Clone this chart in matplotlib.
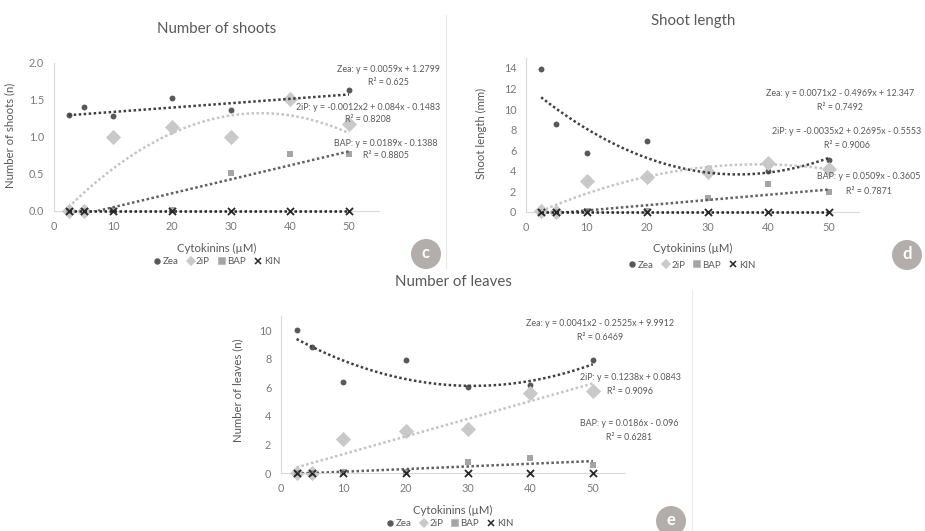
import matplotlib
matplotlib.use('Agg')
from matplotlib import pyplot as plt
from matplotlib.lines import Line2D
from matplotlib.patches import Ellipse
import numpy as np

plt.rcParams['font.family'] = ['Lato', 'DejaVu Sans']

# cytokinin concentrations (uM)
conc = [2.5, 5, 10, 20, 30, 40, 50]

# number of shoots
shoots_zea = [1.30, 1.41, 1.28, 1.53, 1.36, 1.56, 1.63]
shoots_2ip = [0, 0, 1.0, 1.13, 1.0, 1.51, 1.17]
shoots_bap = [0, 0, 0.01, 0.01, 0.52, 0.77, 0.77]
shoots_kin = [0, 0, 0, 0, 0, 0, 0]

# shoot length (mm)
length_zea = [13.95, 8.6, 5.7, 6.9, 4.3, 4.0, 5.1]
length_2ip = [0.05, 0, 3.05, 3.4, 3.9, 4.8, 4.2]
length_bap = [0, 0, 0.1, 0.05, 1.4, 2.7, 1.9]
length_kin = [0, 0, 0, 0, 0, 0, 0]

# number of leaves
leaves_zea = [10.0, 8.85, 6.35, 7.95, 6.0, 6.15, 7.9]
leaves_2ip = [0, 0, 2.35, 2.95, 3.1, 5.6, 5.75]
leaves_bap = [0, 0, 0.05, 0.05, 0.8, 1.05, 0.55]
leaves_kin = [0, 0, 0, 0, 0, 0, 0]

# trendline coefficients as printed on the chart (highest power first)
shoots_fit = [[0.0059, 1.2799], [-0.0012, 0.084, -0.1483], [0.0189, -0.1388], [0, 0]]
length_fit = [[0.0071, -0.4969, 12.347], [-0.0035, 0.2695, -0.5553], [0.0509, -0.3605], [0, 0]]
leaves_fit = [[0.0041, -0.2525, 9.9912], [0.1238, 0.0843], [0.0186, -0.096], None]

shoots_eq = ['Zea: y = 0.0059x + 1.2799', '2iP: y = -0.0012x2 + 0.084x - 0.1483',
             'BAP: y = 0.0189x - 0.1388']
shoots_r2 = ['R² = 0.625', 'R² = 0.8208', 'R² = 0.8805']
length_eq = ['Zea: y = 0.0071x2 - 0.4969x + 12.347', '2iP: y = -0.0035x2 + 0.2695x - 0.5553',
             'BAP: y = 0.0509x - 0.3605']
length_r2 = ['R² = 0.7492', 'R² = 0.9006', 'R² = 0.7871']
leaves_eq = ['Zea: y = 0.0041x2 - 0.2525x + 9.9912', '2iP: y = 0.1238x + 0.0843',
             'BAP: y = 0.0186x - 0.096']
leaves_r2 = ['R² = 0.6469', 'R² = 0.9096', 'R² = 0.6281']

names = ['Zea', '2iP', 'BAP', 'KIN']
marker_colors = ['#595959', '#c9c9c9', '#a5a5a5', '#262626']
line_colors = ['#404040', '#c4c4c4', '#606060', '#262626']
markers = ['o', 'D', 's', 'x']
sizes = [18, 60, 22, 26]
text_grey = '#595959'
tick_grey = '#7a7a7a'

W, H = 925, 531
fig = plt.figure(figsize=(9.25, 5.31), dpi=100)


def px(x, y):
    return x / W, 1 - y / H


def make_panel(left, right, bottom, top, ymax, yticks, fmt, series, fits, title, ylabel,
               title_pos, legend_pos):
    ax = fig.add_axes([left / W, 1 - bottom / H, (right - left) / W, (bottom - top) / H])
    for i, vals in enumerate(series):
        ax.scatter(conc, vals, marker=markers[i], s=sizes[i], color=marker_colors[i],
                   linewidths=1.3 if markers[i] == 'x' else 0, zorder=3, clip_on=False)
    xs = np.linspace(2.5, 50, 200)
    for i, coef in enumerate(fits):
        if coef is None:
            continue
        ax.plot(xs, np.polyval(coef, xs), color=line_colors[i], ls=(0, (1, 1)), lw=1.8,
                zorder=4, clip_on=(i != 3))
    ax.set_xlim(0, 55)
    ax.set_ylim(0, ymax)
    ax.set_xticks([0, 10, 20, 30, 40, 50])
    ax.set_yticks(yticks)
    ax.set_yticklabels([fmt.format(t) for t in yticks])
    for s in ['top', 'right']:
        ax.spines[s].set_visible(False)
    for s in ['left', 'bottom']:
        ax.spines[s].set_color('#d9d9d9')
    ax.tick_params(length=0, labelsize=7.8, labelcolor=tick_grey, pad=7)
    ax.set_xlabel('Cytokinins (µM)', fontsize=8.2, color=text_grey)
    ax.set_ylabel(ylabel, fontsize=8.2, color=text_grey)
    fig.text(*px(*title_pos), title, fontsize=10.8, color=text_grey, ha='center', va='center')
    handles = [Line2D([], [], ls='', marker=markers[i], color=marker_colors[i],
                      markersize=[3.5, 4, 4, 5][i], markeredgewidth=1.1) for i in range(4)]
    fig.legend(handles, names, loc='center', bbox_to_anchor=px(*legend_pos), ncol=4,
               frameon=False, fontsize=7, handlelength=0.7, handletextpad=0.2,
               columnspacing=0.9, labelcolor=text_grey)
    return ax


def add_labels(eqs, r2s, centers, y_pos):
    for eq, r2, cx, (y1, y2) in zip(eqs, r2s, centers, y_pos):
        fig.text(*px(cx, y1), eq, fontsize=6.4, color=text_grey, ha='center', va='center')
        fig.text(*px(cx, y2), r2, fontsize=6.4, color=text_grey, ha='center', va='center')


def badge(x, y, letter):
    fig.add_artist(Ellipse(px(x, y), 30 / W, 30 / H, transform=fig.transFigure,
                           facecolor='#b3aeab', edgecolor='none'))
    fig.text(*px(x, y - 1), letter, fontsize=12, fontweight='bold', color='white',
             ha='center', va='center')


# panel c
ax_c = make_panel(54, 378.5, 211, 63, 2.0, [0, 0.5, 1.0, 1.5, 2.0], '{:.1f}',
                  [shoots_zea, shoots_2ip, shoots_bap, shoots_kin], shoots_fit,
                  'Number of shoots', 'Number of shoots (n)', (217, 29), (217, 262))
ax_c.xaxis.set_label_coords(0.5, -(243 - 211) / 148)
ax_c.yaxis.set_label_coords(-(54 - 15) / 324.5, 0.51)
add_labels(shoots_eq, shoots_r2, [388, 368, 386],
           [(69, 82), (107, 119), (144, 156)])

# panel d
ax_d = make_panel(526, 859, 212, 57.7, 15, [0, 2, 4, 6, 8, 10, 12, 14], '{:.0f}',
                  [length_zea, length_2ip, length_bap, length_kin], length_fit,
                  'Shoot length', 'Shoot length (mm)', (693, 21), (692, 265))
ax_d.xaxis.set_label_coords(0.5, -(243 - 212) / 154.3)
ax_d.yaxis.set_label_coords(-(526 - 487) / 333, 0.51)
add_labels(length_eq, length_r2, [840, 847, 869],
           [(93, 108), (131, 145), (177, 192)])

# panel e
ax_e = make_panel(281, 624, 473, 316, 11, [0, 2, 4, 6, 8, 10], '{:.0f}',
                  [leaves_zea, leaves_2ip, leaves_bap, leaves_kin], leaves_fit,
                  'Number of leaves', 'Number of leaves (n)', (453, 282), (450, 524))
ax_e.xaxis.set_label_coords(0.5, -(505 - 473) / 157)
ax_e.yaxis.set_label_coords(-(281 - 243) / 343, 0.53)
add_labels(leaves_eq, leaves_r2, [600, 630, 629],
           [(324, 337), (378, 391), (424, 437)])

# panel frames and letters
fig.add_artist(Line2D([446 / W, 446 / W], [1 - 15 / H, 1 - 268 / H], color='#e8e8e8', lw=0.8))
fig.add_artist(Line2D([692 / W, 692 / W], [1 - 290 / H, 0], color='#ececec', lw=0.8))
badge(426, 254, 'c')
badge(907, 255, 'd')
badge(671, 521, 'e')

fig.savefig('out.png', dpi=100)
